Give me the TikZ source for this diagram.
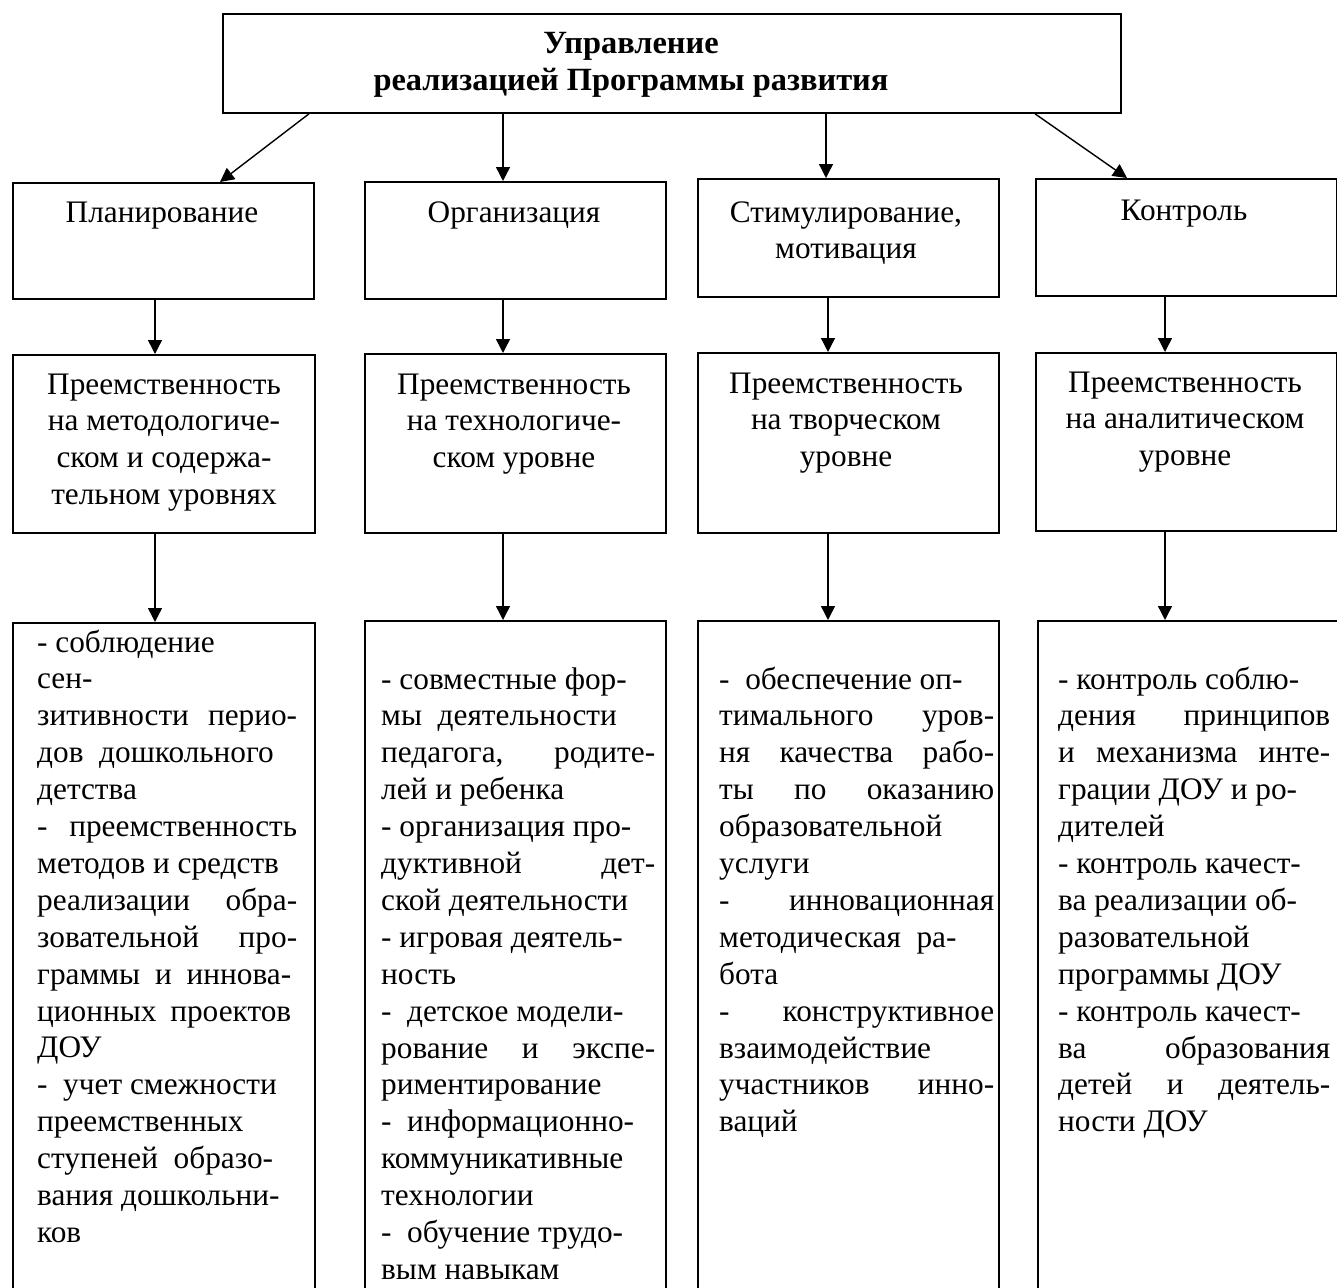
\documentclass[tikz,border=0pt]{standalone}
\usepackage{fontspec}
\setmainfont{Liberation Serif}
\usetikzlibrary{arrows.meta}
\newcommand\J[2][\linewidth]{\makebox[#1][s]{#2}\par}
\newcommand\R[1]{\mbox{#1}\par}
\begin{document}
\begin{tikzpicture}[x=1pt,y=-1pt,
  box/.style={draw, line width=1.8pt, rectangle, inner sep=0pt, anchor=north west},
  arr/.style={-{Triangle[length=14pt,width=14pt]}, line width=1.4pt},
  txt/.style={inner sep=0pt, font=\fontsize{31.3}{36.9}\selectfont},
  ttl/.style={inner sep=0pt, font=\fontsize{32.4}{37}\selectfont\bfseries}]
\clip (0,0) rectangle (1337,1287);
\fill[white] (0,0) rectangle (1337,1287);

% top
\node[box, minimum width=898pt, minimum height=99pt] (top) at (222,13) {};
\node[ttl, anchor=base] (ttltext) at (631,54) {\parbox[t]{700pt}{\centering Управление\\ реализацией Программы развития}};

% level 2
\node[box, minimum width=301pt, minimum height=116pt] (p1) at (12,182) {};
\node[box, minimum width=301pt, minimum height=117pt] (p2) at (364,181) {};
\node[box, minimum width=301pt, minimum height=118pt] (p3) at (697,178) {};
\node[box, minimum width=301pt, minimum height=117pt] (p4) at (1035,178) {};
\node[txt, anchor=base] (p1t) at (162,222) {Планирование};
\node[txt, anchor=base] (p2t) at (514,222) {Организация};
\node[txt, anchor=base] (p3t) at (846,222) {\parbox[t]{290pt}{\centering Стимулирование,\\ мотивация}};
\node[txt, anchor=base] (p4t) at (1184,220) {Контроль};

% level 3
\node[box, minimum width=302pt, minimum height=178pt] (m1) at (12,354) {};
\node[box, minimum width=301pt, minimum height=179pt] (m2) at (364,353) {};
\node[box, minimum width=301pt, minimum height=180pt] (m3) at (697,352) {};
\node[box, minimum width=301pt, minimum height=178pt] (m4) at (1035,352) {};
\node[txt, anchor=base] (m1t) at (164,394) {\parbox[t]{300pt}{\centering Преемственность\\ на методологиче-\\ ском и содержа-\\ тельном уровнях}};
\node[txt, anchor=base] (m2t) at (514,394) {\parbox[t]{300pt}{\centering Преемственность\\ на технологиче-\\ ском уровне}};
\node[txt, anchor=base] (m3t) at (846,393) {\parbox[t]{300pt}{\centering Преемственность\\ на творческом\\ уровне}};
\node[txt, anchor=base] (m4t) at (1185,392) {\parbox[t]{300pt}{\centering Преемственность\\ на аналитическом\\ уровне}};

% level 4
\node[box, minimum width=302pt, minimum height=720pt] (b1) at (12,622) {};
\node[box, minimum width=301pt, minimum height=720pt] (b2) at (364,620) {};
\node[box, minimum width=301pt, minimum height=720pt] (b3) at (697,620) {};
\node[box, minimum width=300pt, minimum height=720pt] (b4) at (1037,620) {};

\node[txt, anchor=base west] (b1t) at (37,652) {\parbox[t]{260pt}{%
\R{- соблюдение}
\R{сен-}
\J{зитивности перио-}
\R{дов\ \ дошкольного}
\R{детства}
\J{-\ \ преемственность}
\R{методов и средств}
\J{реализации обра-}
\J{зовательной про-}
\J[254pt]{граммы и иннова-}
\J[254pt]{ционных проектов}
\R{ДОУ}
\R{-\ \ учет смежности}
\R{преемственных}
\R{ступеней\ \ образо-}
\R{вания дошкольни-}
\R{ков}}};

\node[txt, anchor=base west] (b2t) at (381,689) {\parbox[t]{274pt}{%
\R{- совместные фор-}
\R{мы\ \ деятельности}
\J{педагога, родите-}
\R{лей и ребенка}
\R{- организация про-}
\J{дуктивной дет-}
\R{ской деятельности}
\R{- игровая деятель-}
\R{ность}
\R{-\ \ детское модели-}
\J{рование и экспе-}
\R{риментирование}
\R{-\ \ информационно-}
\R{коммуникативные}
\R{технологии}
\R{-\ \ обучение трудо-}
\R{вым навыкам}}};

\node[txt, anchor=base west] (b3t) at (719,689) {\parbox[t]{275pt}{%
\R{-\ \ обеспечение оп-}
\J{тимального уров-}
\J{ня качества рабо-}
\J{ты по оказанию}
\R{образовательной}
\R{услуги}
\J{- инновационная}
\R{методическая\ \ ра-}
\R{бота}
\J{- конструктивное}
\R{взаимодействие}
\J{участников инно-}
\R{ваций}}};

\node[txt, anchor=base west] (b4t) at (1058,689) {\parbox[t]{272pt}{%
\R{- контроль соблю-}
\J{дения принципов}
\J{и механизма инте-}
\R{грации ДОУ и ро-}
\R{дителей}
\R{- контроль качест-}
\R{ва реализации об-}
\R{разовательной}
\R{программы ДОУ}
\R{- контроль качест-}
\J{ва образования}
\J{детей и деятель-}
\R{ности ДОУ}}};

% connector columns
\coordinate (d1) at (309,0);
\coordinate (e1) at (220,0);
\coordinate (d2) at (503,0);
\coordinate (d3) at (826,0);
\coordinate (d4) at (1035,0);
\coordinate (e4) at (1127,0);
\coordinate (c1) at (155,0);
\coordinate (c2) at (503,0);
\coordinate (c3) at (828,0);
\coordinate (c4) at (1165,0);

\draw[arr] (top.south -| d1) -- (p1.north -| e1);
\draw[arr] (top.south -| d2) -- (p2.north -| d2);
\draw[arr] (top.south -| d3) -- (p3.north -| d3);
\draw[arr] (top.south -| d4) -- (p4.north -| e4);

\draw[arr] (p1.south -| c1) -- (m1.north -| c1);
\draw[arr] (p2.south -| c2) -- (m2.north -| c2);
\draw[arr] (p3.south -| c3) -- (m3.north -| c3);
\draw[arr] (p4.south -| c4) -- (m4.north -| c4);

\draw[arr] (m1.south -| c1) -- (b1.north -| c1);
\draw[arr] (m2.south -| c2) -- (b2.north -| c2);
\draw[arr] (m3.south -| c3) -- (b3.north -| c3);
\draw[arr] (m4.south -| c4) -- (b4.north -| c4);
\end{tikzpicture}
\end{document}
